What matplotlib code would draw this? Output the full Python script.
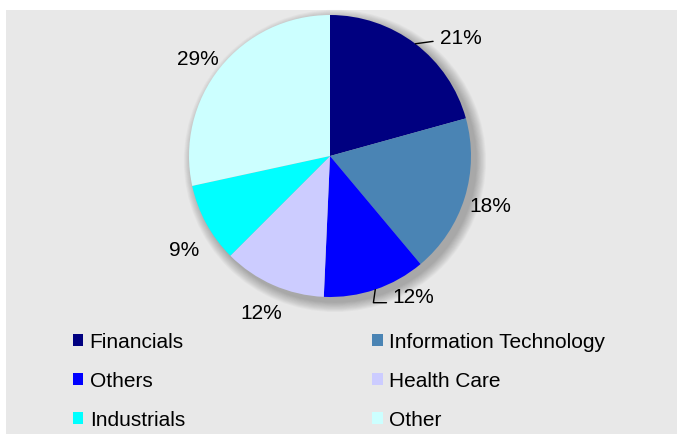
import numpy as np
import matplotlib.pyplot as plt
from matplotlib.patches import Rectangle, Circle, Patch

plt.rcParams['font.family'] = ['Liberation Sans', 'DejaVu Sans']

# Data
sectors = ["Financials", "Information Technology", "Others",
           "Health Care", "Industrials", "Other"]
weights = [20.7, 18.2, 11.8, 11.8, 9.1, 28.4]
pct_labels = ["21%", "18%", "12%", "12%", "9%", "29%"]
colors = ["#000080", "#4a84b4", "#0000ff", "#ccccff", "#00ffff", "#ccffff"]

# label placement: distance from centre and angle nudge (deg) from wedge middle
label_dist = [None, 1.19, None, 1.21, 1.23, 1.16]
label_nudge = [0, 0, 0, 0, 4, 2.5]

W, H = 677, 435
fig = plt.figure(figsize=(W / 100, H / 100), dpi=100, facecolor="white")

# grey plot area
fig.patches.append(Rectangle((6 / W, 0), 1, 1 - 11 / H, transform=fig.transFigure,
                             facecolor="#e8e8e8", edgecolor="none", zorder=-5))

# pie axes
R = 141
cx, cy = 330, 157
ax = fig.add_axes([(cx - R) / W, (H - cy - R) / H, 2 * R / W, 2 * R / H])

# soft shadow down-right
for k in range(12):
    ax.add_patch(Circle((0.035, -0.035), 1.0 + 0.006 * (12 - k), facecolor="black",
                        edgecolor="none", alpha=0.025, zorder=1, clip_on=False))

wedges, _ = ax.pie(weights, colors=colors, startangle=90, counterclock=False,
                   radius=1.0, wedgeprops=dict(linewidth=0))
for w in wedges:
    w.set_zorder(2)
    w.set_clip_on(False)
ax.set_xlim(-1, 1)
ax.set_ylim(-1, 1)
ax.axis("off")

fs = 15
# plain labels
for i, w in enumerate(wedges):
    if label_dist[i] is None:
        continue
    mid = np.deg2rad((w.theta1 + w.theta2) / 2 + label_nudge[i])
    d = label_dist[i]
    ax.text(d * np.cos(mid), d * np.sin(mid), pct_labels[i], fontsize=fs,
            ha="center", va="center", clip_on=False)

# labels with leader lines
w0 = wedges[0]
edge0 = np.deg2rad((w0.theta1 + w0.theta2) / 2)
ax.annotate(pct_labels[0], xy=(np.cos(edge0), np.sin(edge0)),
            xytext=(0.78, 0.84), fontsize=fs, ha="left", va="center",
            arrowprops=dict(arrowstyle="-", color="black", lw=1,
                            shrinkA=3, shrinkB=0, relpos=(0, 0.35)),
            annotation_clip=False)

w2 = wedges[2]
edge2 = np.deg2rad((w2.theta1 + w2.theta2) / 2)
ax.annotate(pct_labels[2], xy=(np.cos(edge2), np.sin(edge2)),
            xytext=(0.44, -1.0), fontsize=fs, ha="left", va="center",
            arrowprops=dict(arrowstyle="-", color="black", lw=1,
                            shrinkA=2, shrinkB=0, relpos=(0, 0.2),
                            connectionstyle="angle,angleA=0,angleB=82,rad=0"),
            annotation_clip=False)

# legend, row-major order
order = [0, 2, 4, 1, 3, 5]
handles = [Patch(facecolor=colors[i], edgecolor="none") for i in order]
labels = [sectors[i] for i in order]
fig.legend(handles, labels, ncol=2, loc="upper left",
           bbox_to_anchor=(73 / W, 1 - 333 / H), frameon=False, fontsize=fs,
           handlelength=0.5, handleheight=0.5, handletextpad=0.3,
           columnspacing=9.0, labelspacing=0.97, borderpad=0, borderaxespad=0)

fig.savefig("out.png", dpi=100, facecolor="white")
